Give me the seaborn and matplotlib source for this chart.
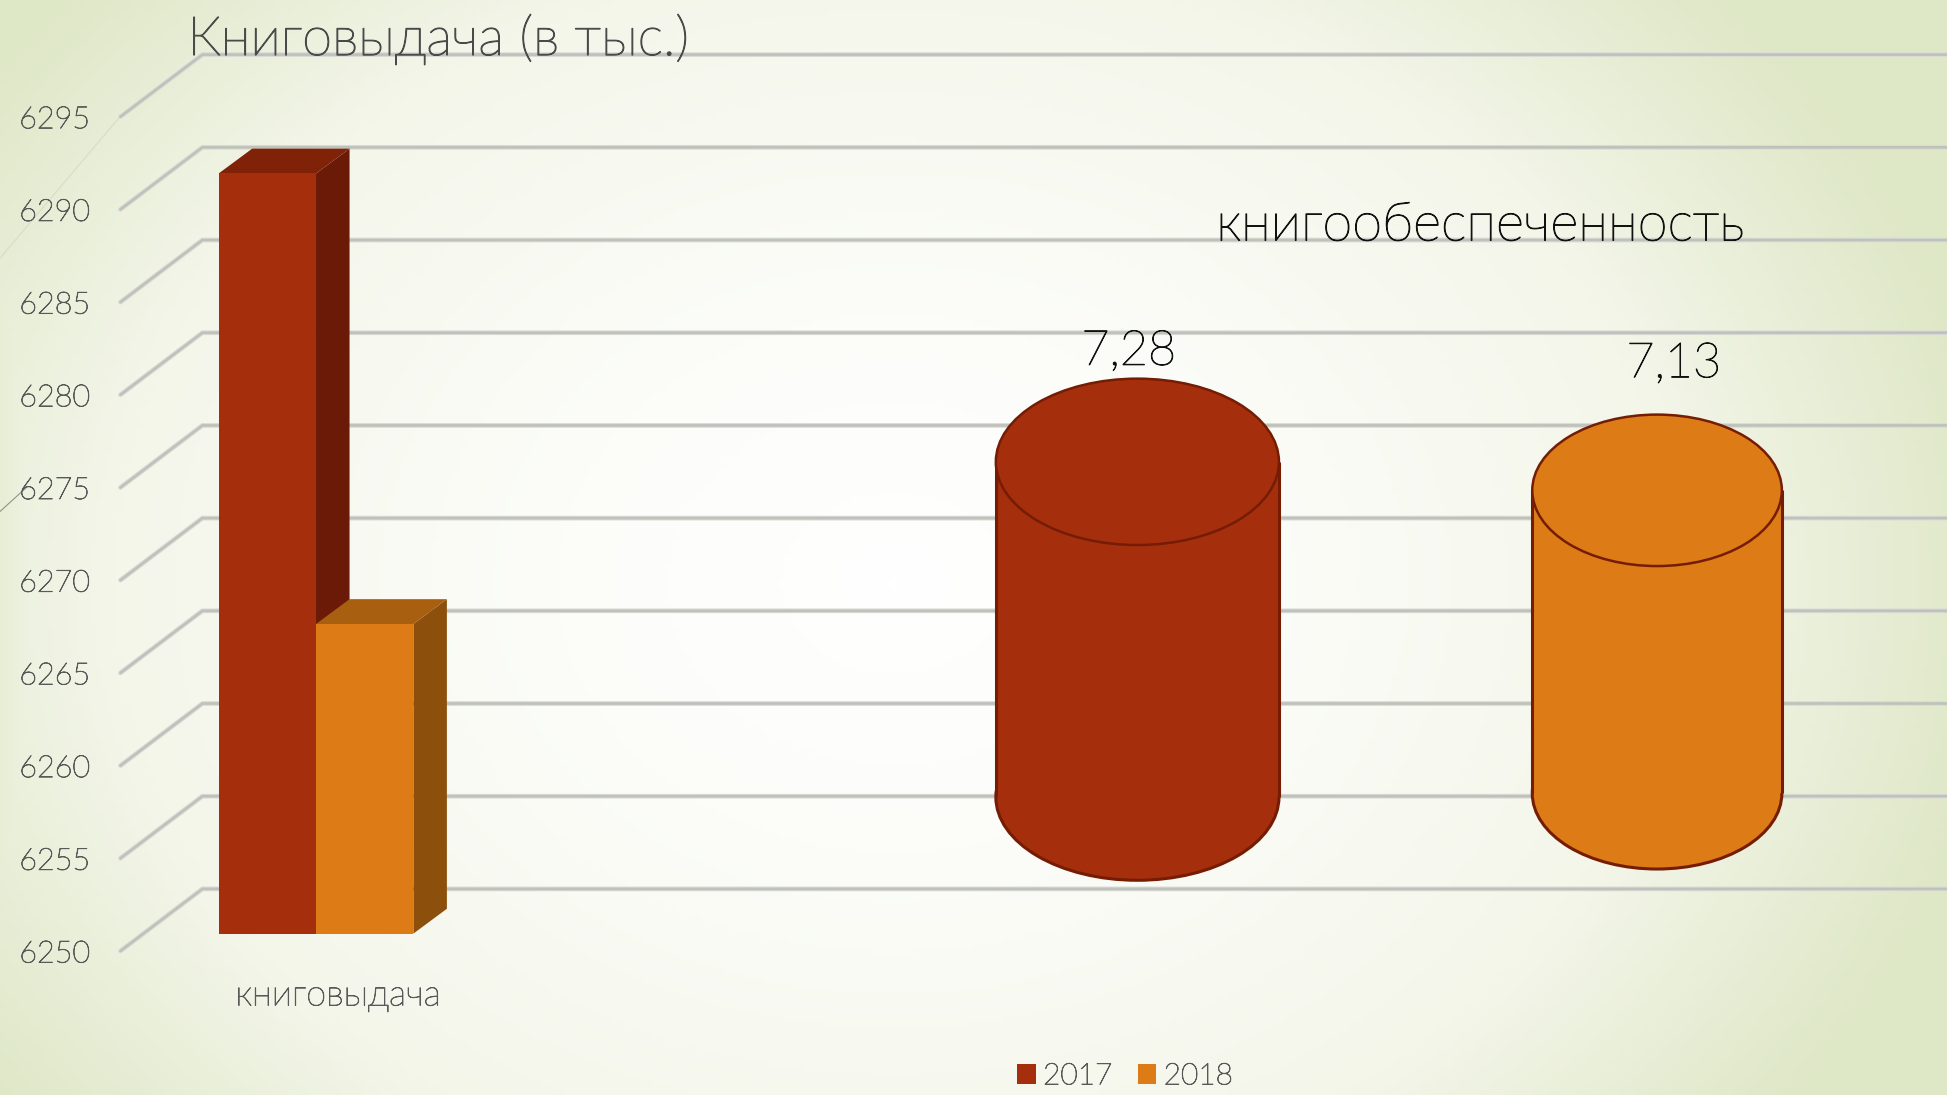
import numpy as np
import pandas as pd
import matplotlib
matplotlib.use("Agg")
import matplotlib.pyplot as plt
import matplotlib.patheffects as pe
from matplotlib.colors import LinearSegmentedColormap
from matplotlib.patches import Ellipse, Polygon
import seaborn as sns

### Values
years = ["2017", "2018"]
loans_category = "книговыдача"
loans = [6291.0, 6266.7]
supply = [7.28, 7.13]
supply_labels = ["7,28", "7,13"]
value_ticks = [6250, 6255, 6260, 6265, 6270, 6275, 6280, 6285, 6290, 6295]

colors = ["#A52F0C", "#DD7B17"]
top_colors = ["#7F2208", "#A85F10"]
side_colors = ["#6A1A06", "#8C500C"]
edge_dark = "#741C04"
text_gray = "#595959"

sns.set_theme(style="white")
plt.rcParams["font.family"] = ["Lato", "Noto Sans", "DejaVu Sans"]

W, H = 1568, 882  # layout units, scaled to 1947x1095 on save
fig = plt.figure(figsize=(19.47, 10.95), dpi=100)


def box(left, top, right, bottom):
    return [left / W, 1 - bottom / H, (right - left) / W, (bottom - top) / H]


def thicken(text, color, width=0.5):
    # Lato Light is thinner than the slide font, so give it a little stroke
    text.set_fontweight("light")
    text.set_path_effects([pe.withStroke(linewidth=width, foreground=color)])


### Background
ax_bg = fig.add_axes([0, 0, 1, 1], zorder=0)
xx, yy = np.meshgrid(np.linspace(0, W, 400), np.linspace(0, H, 225))
t = np.sqrt(((xx - 720) / 900) ** 2 + ((yy - 470) / 720) ** 2)
t = np.maximum(t, 0.86 * (1.0 - xx / 210))
cmap = LinearSegmentedColormap.from_list(
    "slide", [(0, "#FFFFFF"), (0.3, "#FCFDF9"), (0.7, "#F4F6EA"), (1, "#DEE7C6")]
)
ax_bg.imshow(np.clip(t, 0, 1), cmap=cmap, vmin=0, vmax=1, extent=[0, W, H, 0], aspect="auto")
ax_bg.plot([100, 0], [90, 208], color="#D9DCC6", lw=0.8)
ax_bg.plot([22, 0], [392, 412], color="#8F9488", lw=0.8)
ax_bg.set_xlim(0, W)
ax_bg.set_ylim(H, 0)
ax_bg.axis("off")

### Value axis with the 3D wall lines
ax_wall = fig.add_axes(box(97, 94, W, 766), zorder=1)
ax_wall.patch.set_alpha(0)
ax_wall.set_xlim(97, W)
ax_wall.set_ylim(6250, 6295)
ax_wall.set_yticks(value_ticks)
ax_wall.set_xticks([])
ax_wall.tick_params(axis="y", length=0, pad=22, labelsize=22, labelcolor=text_gray)
for lab in ax_wall.get_yticklabels():
    thicken(lab, text_gray, 0.6)
sns.despine(ax=ax_wall, left=True, bottom=True)
depth_val = 50 / (672 / 45)
for v in value_ticks:
    for lw, col in [(3.4, "#DADBD6"), (1.9, "#BFC1BB")]:
        ax_wall.plot([97, 163, W], [v, v + depth_val, v + depth_val],
                     color=col, lw=lw, clip_on=False, solid_joinstyle="miter")

### Left chart: bars
ax_bar = fig.add_axes(box(0, 80, W, 752), zorder=2)
ax_bar.patch.set_alpha(0)
loans_df = pd.DataFrame({"category": [loans_category] * 2, "year": years, "value": loans})
sns.barplot(data=loans_df, x="category", y="value", hue="year", palette=colors,
            width=0.8, saturation=1, linewidth=0, ax=ax_bar, zorder=5)
ax_bar.set_ylim(6250, 6295)
unit = 196
ax_bar.set_xlim(-254.5 / unit, (W - 254.5) / unit)
ax_bar.set_xticks([18 / unit])
ax_bar.set_xticklabels([loans_category])
ax_bar.tick_params(axis="x", length=0, pad=33, labelsize=26, labelcolor=text_gray)
for lab in ax_bar.get_xticklabels():
    thicken(lab, text_gray, 0.6)
ax_bar.set_yticks([])
ax_bar.set_xlabel("")
ax_bar.set_ylabel("")
sns.despine(ax=ax_bar, left=True, bottom=True)

handles, labels = ax_bar.get_legend_handles_labels()
ax_bar.get_legend().remove()

dx = 27 / unit
dy = 20 / (672 / 45)
for i, bar in enumerate(ax_bar.patches[:2]):
    x0, x1, top, base = bar.get_x(), bar.get_x() + bar.get_width(), bar.get_height(), 6250
    ax_bar.add_patch(Polygon([(x1, base), (x1 + dx, base + dy), (x1 + dx, top + dy), (x1, top)],
                             facecolor=side_colors[i], edgecolor="none", zorder=2 + i, clip_on=False))
    ax_bar.add_patch(Polygon([(x0, top), (x0 + dx, top + dy), (x1 + dx, top + dy), (x1, top)],
                             facecolor=top_colors[i], edgecolor="none", zorder=2 + i, clip_on=False))

### Right chart: cylinders
ax_cyl = fig.add_axes([0, 0, 1, 1], zorder=3)
ax_cyl.patch.set_alpha(0)
supply_df = pd.DataFrame({"year": years, "value": supply})
sns.barplot(data=supply_df, x="year", y="value", hue="year", palette=colors,
            saturation=1, dodge=False, legend=False, linewidth=0, ax=ax_cyl, zorder=3)

cyl_unit = 418.5
px_val = 153.0   # layout units per value unit
ax_cyl.set_xlim(-916 / cyl_unit, (W - 916) / cyl_unit)
ax_cyl.set_ylim(7.28 - (H - 372) / px_val, 7.28 + 372 / px_val)
ax_cyl.axis("off")

cyl_base = [5.515, 5.535]
cyl_width = [228 / cyl_unit, 201 / cyl_unit]
cyl_ry = [67 / px_val, 61 / px_val]
label_x = [-7 / cyl_unit, 13.5 / cyl_unit]
label_gap = [89, 102]

for i, bar in enumerate(ax_cyl.patches[:2]):
    w, ry, base, val = cyl_width[i], cyl_ry[i], cyl_base[i], supply[i]
    bar.set_x(i - w / 2)
    bar.set_width(w)
    bar.set_y(base)
    bar.set_height(val - base)
    ax_cyl.add_patch(Ellipse((i, base), w, 2 * ry, facecolor=colors[i],
                             edgecolor=edge_dark, lw=2.2, zorder=2))
    ax_cyl.vlines([i - w / 2, i + w / 2], base, val, color=edge_dark, lw=2.2, zorder=4)
    ax_cyl.add_patch(Ellipse((i, val), w, 2 * ry, facecolor=colors[i],
                             edgecolor=edge_dark, lw=1.8, zorder=5))
    label = ax_cyl.text(i + label_x[i], val + label_gap[i] / px_val, supply_labels[i], ha="center",
                        va="center", fontsize=35, color="#111111")
    thicken(label, "#111111", 0.7)

### Texts and legend
title = fig.text(151 / W, 1 - 32 / H, "Книговыдача (в тыс.)", ha="left", va="center",
                 fontsize=39, color="#4A4A4A", zorder=6)
thicken(title, "#4A4A4A", 0.9)
note = fig.text(1192 / W, 1 - 182 / H, "книгообеспеченность", ha="center", va="center",
                fontsize=39, color="#111111", zorder=6)
thicken(note, "#111111", 0.8)
legend = fig.legend(handles, labels, loc="center", bbox_to_anchor=(906 / W, 1 - 867 / H), ncol=2,
                    frameon=False, labelcolor=text_gray, handlelength=0.62, handleheight=0.62,
                    handletextpad=0.25, columnspacing=0.85, borderpad=0,
                    prop={"size": 21.5})
for lab in legend.get_texts():
    thicken(lab, text_gray, 0.6)

fig.savefig("out.png", dpi=100)
